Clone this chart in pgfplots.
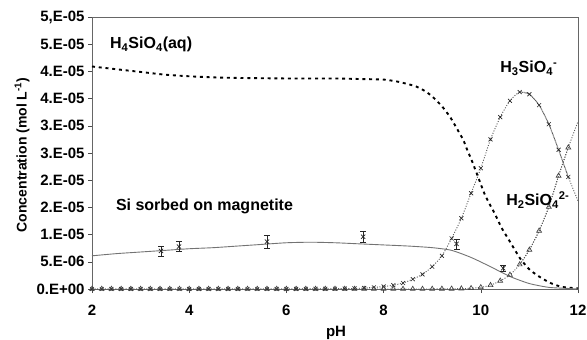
\documentclass[border=0pt]{standalone}
\usepackage{fontspec}
\setmainfont{Liberation Sans}
\usepackage{pgfplots}
\pgfplotsset{compat=1.18}
\usepackage{pgfplotstable}

\pgfplotstableread{
ph h3 h2
2.0 0.0 0.0
2.2 0.0 0.0
2.4 0.0 0.0
2.6 0.0 0.0
2.8 0.0 0.0
3.0 0.0 0.0
3.2 0.0 0.0
3.4 0.0 0.0
3.6 0.0 0.0
3.8 0.0 0.0
4.0 0.0 0.0
4.2 0.0 0.0
4.4 0.0 0.0
4.6 0.0 0.0
4.8 0.0 0.0
5.0 0.0 0.0
5.2 0.0 0.0
5.4 0.0 0.0
5.6 0.0 0.0
5.8 0.0 0.0
6.0 0.0 0.0
6.2 0.001 0.0
6.4 0.002 0.0
6.6 0.002 0.0
6.8 0.003 0.0
7.0 0.005 0.0
7.2 0.007 0.0
7.4 0.011 0.0
7.6 0.018 0.0
7.8 0.03 0.0
8.0 0.045 0.0
8.2 0.07 0.0
8.4 0.11 0.0
8.6 0.18 0.0
8.8 0.27 0.0
9.0 0.41 0.001
9.2 0.61 0.002
9.4 0.93 0.004
9.6 1.30 0.007
9.8 1.76 0.014
10.0 2.22 0.03
10.2 2.75 0.07
10.4 3.16 0.15
10.6 3.46 0.26
10.8 3.62 0.45
11.0 3.58 0.72
11.2 3.38 1.07
11.4 3.03 1.51
11.6 2.56 2.08
11.8 2.06 2.60
}\speciesmarks

\pgfplotstableread{
ph h3 h2
10.8 3.62 0.45
11.0 3.58 0.72
11.2 3.38 1.07
11.4 3.03 1.51
11.6 2.56 2.08
11.8 2.06 2.60
12.0 1.62 3.08
}\speciestail

\pgfplotstableread{
ph c
2.0 4.09
2.5 4.04
3.0 3.99
3.5 3.94
4.0 3.91
4.5 3.89
5.0 3.88
6.0 3.87
7.0 3.87
7.5 3.86
8.0 3.85
8.3 3.81
8.65 3.73
8.85 3.64
9.0 3.54
9.2 3.36
9.37 3.16
9.52 2.93
9.64 2.74
9.71 2.58
9.81 2.37
9.91 2.14
10.09 1.72
10.29 1.38
10.43 1.12
10.6 0.87
10.81 0.56
11.01 0.35
11.25 0.20
11.46 0.10
11.66 0.04
11.87 0.02
12.0 0.01
}\hfour

\pgfplotstableread{
ph c
2.0 0.61
2.5 0.65
3.0 0.68
3.5 0.71
4.0 0.74
4.5 0.76
5.0 0.79
5.5 0.82
6.0 0.85
6.5 0.86
7.0 0.85
7.5 0.83
8.0 0.81
8.5 0.79
9.0 0.76
9.4 0.71
9.8 0.58
10.2 0.41
10.6 0.23
11.0 0.10
11.4 0.03
11.8 0.01
12.0 0.0
}\sorbed

\begin{document}
\begin{tikzpicture}
\begin{axis}[
  scale only axis, width=486bp, height=272bp,
  xmin=2, xmax=12, ymin=0, ymax=5,
  xtick={2,4,6,8,10,12}, xticklabels={2,4,6,8,10,12},
  ytick={0,0.5,1,1.5,2,2.5,3,3.5,4,4.5,5},
  yticklabels={0.E+00,5.E-06,1.E-05,2.E-05,2.E-05,3.E-05,3.E-05,4.E-05,4.E-05,5.E-05,{5,E-05}},
  ticklabel style={font=\fontsize{15bp}{17bp}\selectfont\bfseries},
  xticklabel style={yshift=-9bp},
  tick align=outside, tick pos=left, major tick length=4bp,
  tick style={black!70, line width=0.6pt},
  axis line style={black!60, line width=0.6pt},
  clip mode=individual,
]
% H4SiO4(aq)
\addplot[black, line width=1.9pt, dash pattern=on 3pt off 3.8pt, smooth, tension=0.3] table[x=ph, y=c] {\hfour};
% sorbed model
\addplot[black!55, line width=0.9pt, smooth, tension=0.4] table[x=ph, y=c] {\sorbed};
% H3SiO4-
\addplot[black!65, line width=0.9pt, dash pattern=on 1pt off 1.6pt, smooth, tension=0.4] table[x=ph, y=h3] {\speciesmarks};
\addplot[black!65, line width=0.9pt, dash pattern=on 1pt off 1.6pt, smooth, tension=0.4] table[x=ph, y=h3] {\speciestail};
\addplot[only marks, mark=x, mark size=2.8bp, mark options={black!85, line width=0.65pt}] table[x=ph, y=h3] {\speciesmarks};
% H2SiO4 2-
\addplot[black!65, line width=0.9pt, dash pattern=on 1pt off 1.6pt, smooth, tension=0.4] table[x=ph, y=h2] {\speciesmarks};
\addplot[black!65, line width=0.9pt, dash pattern=on 1pt off 1.6pt, smooth, tension=0.4] table[x=ph, y=h2] {\speciestail};
\addplot[only marks, mark=triangle, mark size=2.8bp, mark options={black!75, line width=0.65pt}] table[x=ph, y=h2] {\speciesmarks};
% sorbed data
\addplot[only marks, mark=x, mark size=3bp, mark options={black!85, line width=0.7pt},
  error bars/.cd, y dir=both, y explicit, error bar style={black!85, line width=0.7pt}]
  coordinates {
  (3.42,0.70) +- (0,0.09)
  (3.79,0.78) +- (0,0.09)
  (5.60,0.87) +- (0,0.12)
  (7.58,0.96) +- (0,0.10)
  (9.50,0.83) +- (0,0.09)
  (10.46,0.38) +- (0,0.05)
  };
\node[anchor=west, font=\fontsize{16bp}{18bp}\selectfont\bfseries, inner sep=0pt] at (axis cs:2.37,4.49) {H\textsubscript{4}SiO\textsubscript{4}(aq)};
\node[anchor=west, font=\fontsize{16bp}{18bp}\selectfont\bfseries, inner sep=0pt] at (axis cs:10.40,4.06) {H\textsubscript{3}SiO\textsubscript{4}\textsuperscript{-}};
\node[anchor=west, font=\fontsize{16bp}{18bp}\selectfont\bfseries, inner sep=0pt] at (axis cs:10.52,1.64) {H\textsubscript{2}SiO\textsubscript{4}\textsuperscript{2-}};
\node[anchor=west, font=\fontsize{16bp}{18bp}\selectfont\bfseries, inner sep=0pt] at (axis cs:2.49,1.51) {Si sorbed on magnetite};
\end{axis}
\node[font=\fontsize{15bp}{17bp}\selectfont\bfseries] at ([shift={(1bp,-44bp)}]current axis.south) {pH};
\node[rotate=90, font=\fontsize{14bp}{16bp}\selectfont\bfseries] at ([shift={(-70bp,-2bp)}]current axis.west) {Concentration (mol L\textsuperscript{-1})};
\pgfresetboundingbox
\path ([shift={(-92bp,-51bp)}]current axis.south west) rectangle ([shift={(9bp,17bp)}]current axis.north east);
\end{tikzpicture}
\end{document}
